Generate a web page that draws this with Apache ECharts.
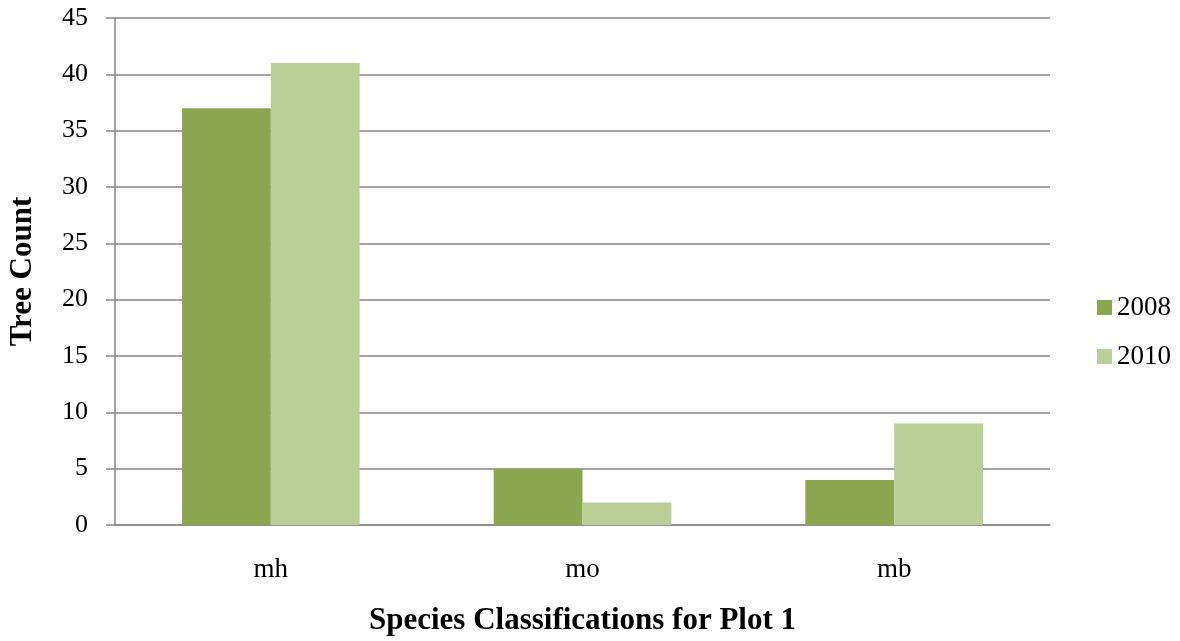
<!DOCTYPE html>
<html>
<head>
<meta charset="utf-8">
<script src="https://cdn.jsdelivr.net/npm/echarts@6/dist/echarts.min.js"></script>
<style>
html,body{margin:0;padding:0;background:#fff;}
#chart{width:1180px;height:641px;}
</style>
</head>
<body>
<div id="chart"></div>
<script>
const categories = ['mh', 'mo', 'mb'];
const seriesNames = ['2008', '2010'];
const values2008 = [37, 5, 4];
const values2010 = [41, 2, 9];
const colors = ['#8AA64F', '#B9CF96'];

const font = '"Liberation Serif", "Times New Roman", serif';
const chart = echarts.init(document.getElementById('chart'));
chart.setOption({
  animation: false,
  grid: { left: 115, right: 130, top: 18, bottom: 116, containLabel: false, outerBoundsMode: 'none' },
  legend: {
    orient: 'vertical',
    left: 1092,
    top: 289,
    icon: 'rect',
    itemWidth: 15,
    itemHeight: 15,
    itemGap: 22,
    textStyle: { fontFamily: font, fontSize: 27, color: '#000' },
    data: seriesNames
  },
  xAxis: {
    type: 'category',
    data: categories,
    axisLine: { lineStyle: { color: '#868686', width: 1.5 } },
    axisTick: { show: false },
    axisLabel: { fontFamily: font, fontSize: 27, color: '#000', margin: 31 },
    name: 'Species Classifications for Plot 1',
    nameLocation: 'middle',
    nameGap: 80,
    nameTextStyle: { fontFamily: font, fontSize: 31, fontWeight: 'bold', color: '#000' }
  },
  yAxis: {
    type: 'value',
    min: 0,
    max: 45,
    interval: 5,
    axisLine: { show: true, lineStyle: { color: '#868686', width: 1.5 } },
    axisTick: { show: true, length: 9, lineStyle: { color: '#868686', width: 1.5 } },
    splitLine: { lineStyle: { color: '#868686', width: 1.5 } },
    axisLabel: { fontFamily: font, fontSize: 26, color: '#000', margin: 27 },
    name: 'Tree Count',
    nameLocation: 'middle',
    nameGap: 77,
    nameTextStyle: { fontFamily: font, fontSize: 31, fontWeight: 'bold', color: '#000' }
  },
  series: [
    { name: seriesNames[0], type: 'bar', data: values2008, barGap: '0%', barCategoryGap: '43%',
      itemStyle: { color: colors[0] } },
    { name: seriesNames[1], type: 'bar', data: values2010,
      itemStyle: { color: colors[1] } }
  ]
});
</script>
</body>
</html>
